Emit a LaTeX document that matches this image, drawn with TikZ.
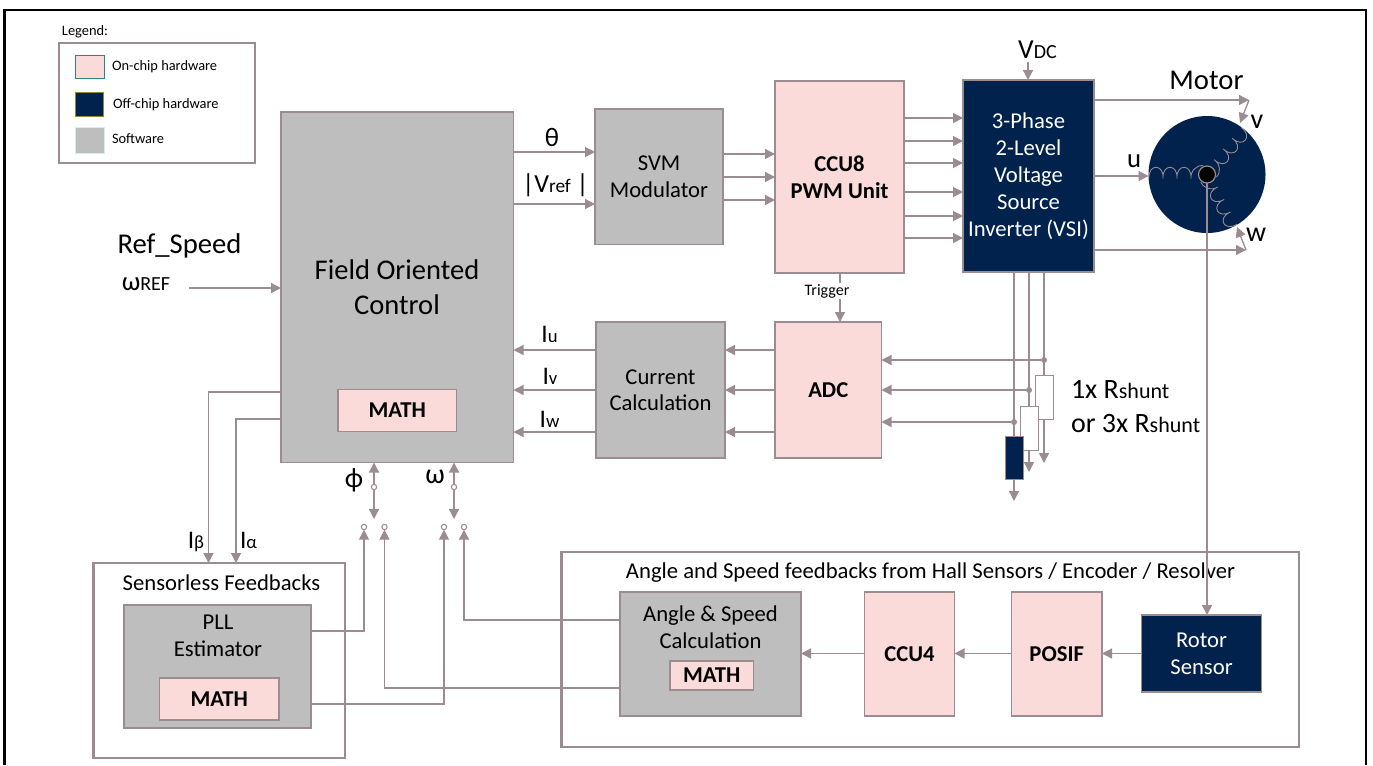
\documentclass[tikz,border=0pt]{standalone}
\usepackage{fontspec}
\setmainfont{Carlito}
\usetikzlibrary{arrows.meta,calc}
\definecolor{linec}{HTML}{9A8C90}
\definecolor{pinkc}{HTML}{FADBD9}
\definecolor{navyc}{HTML}{00224D}
\definecolor{grayc}{HTML}{BEBEBE}
\newcommand{\fs}[1]{\fontsize{#1}{#1}\selectfont}
\newcommand{\bx}[7]{\node[#2,minimum width={(#5-#3)*0.75pt},minimum height={(#6-#4)*0.75pt}] (#1) at ({(#3+#5)/2},{(#4+#6)/2}) {#7};}
\tikzset{
  x=0.75pt,y=-0.75pt,
  block/.style={rectangle,draw=linec,line width=0.8pt,outer sep=0pt,inner sep=0pt,align=center},
  pinkb/.style={block,fill=pinkc,text=black,font=\fs{17}\bfseries},
  navyb/.style={block,fill=navyc,text=white},
  grayb/.style={block,fill=grayc,text=black},
  groupb/.style={rectangle,draw=linec,line width=2.2pt,fill=white,outer sep=0pt,inner sep=0pt},
  wire/.style={draw=linec,line width=1pt},
  arr/.style={wire,-{Triangle[length=7.5pt,width=7.5pt]}},
  lbl/.style={inner sep=0pt,outer sep=0pt,text=black,anchor=base},
  dotc/.style={circle,draw=linec,fill=white,line width=0.8pt,minimum size=4pt,inner sep=0pt,outer sep=0pt},
  dotf/.style={circle,fill=linec,minimum size=4.5pt,inner sep=0pt,outer sep=0pt},
}
\begin{document}
\begin{tikzpicture}
\useasboundingbox (0,0) rectangle (1373,765);
\draw[black,line width=1.7pt,line join=miter] (4.5,765) -- (4.5,10) -- (1366,10) -- (1366,765);
% legend
\node[lbl,font=\fs{10.8}] (legt) at (85,35) {Legend:};
\bx{leg}{groupb,line width=2pt}{59}{43}{255}{163}{}
\bx{s1}{block,fill=pinkc,draw=teal!60!gray,line width=0.5pt}{75}{55}{104}{78}{}
\bx{s2}{block,fill=navyc,draw=olive!60!gray,line width=0.5pt}{75}{92}{103}{116}{}
\bx{s3}{block,fill=grayc,draw=teal!15!white,line width=0.5pt}{75}{127}{104.5}{153}{}
\node[lbl,font=\fs{10.8},anchor=base west] (l1) at (112,70) {On-chip hardware};
\node[lbl,font=\fs{10.8},anchor=base west] (l2) at (113,108) {Off-chip hardware};
\node[lbl,font=\fs{10.8},anchor=base west] (l3) at (112,143) {Software};
% blocks
\bx{foc}{grayb}{281}{112}{513.5}{462.5}{}
\node[lbl,font=\fs{21.4},align=center,anchor=center] (foct) at (397,287) {Field Oriented\\[4.85pt]Control};
\bx{fmath}{pinkb}{338}{389.5}{456.5}{431.5}{MATH}
\bx{svm}{grayb,font=\fs{17}}{595}{109}{723}{244.5}{SVM\\[3.2pt]Modulator}
\bx{ccu8}{pinkb}{775}{81}{904}{273}{CCU8\\[3.2pt]PWM Unit}
\bx{vsi}{navyb,font=\fs{17}}{963}{80}{1094}{272}{3-Phase\\[3.2pt]2-Level\\[3.2pt]Voltage\\[3.2pt]Source\\[3.2pt]Inverter (VSI)}
\bx{cur}{grayb,font=\fs{17}}{596}{322}{725}{458}{Current\\[2.8pt]Calculation}
\bx{adc}{pinkb}{775}{322}{881.5}{458}{ADC}
% motor
\node[circle,fill=navyc,minimum size={117*0.75pt},inner sep=0pt,outer sep=0pt] (motor) at (1207,174.5) {};
\foreach \r in {0,-130,117}{
 \begin{scope}[shift={(1207,174.5)},rotate=\r]
  \draw[linec,line width=0.65pt] (-58,4)
   .. controls +(-1,-15) and +(1,-15) .. ++(14,0)
   .. controls +(-1,-15) and +(1,-15) .. ++(14,0)
   .. controls +(-1,-15) and +(1,-15) .. ++(14,0)
   .. controls +(-1,-8) and +(-5,-1) .. (-4,-9);
 \end{scope}
}
\node[circle,draw=linec,fill=black,line width=0.9pt,minimum size={17*0.75pt},inner sep=0pt,outer sep=0pt] (hub) at (1207,174.5) {};
% groups
\bx{sless}{groupb}{93.5}{563}{345}{758}{}
\bx{angle}{groupb}{561.5}{552}{1299}{747}{}
\node[lbl,font=\fs{17}] (slesst) at (221.5,590) {Sensorless Feedbacks};
\node[lbl,font=\fs{17}] (anglet) at (930.5,578) {Angle and Speed feedbacks from Hall Sensors / Encoder / Resolver};
\bx{pll}{grayb}{124}{605}{311}{728}{}
\node[lbl,font=\fs{17},align=center,anchor=center] (pllt) at (218,636) {PLL\\[3.2pt]Estimator};
\bx{pmath}{pinkb}{159.5}{678}{279}{720}{MATH}
\bx{asc}{grayb}{620}{592}{801}{716}{}
\node[lbl,font=\fs{17},align=center,anchor=center] (asct) at (710.5,627) {Angle \& Speed\\[3.2pt]Calculation};
\bx{amath}{pinkb}{670}{661}{753.5}{690}{MATH}
\bx{ccu4}{pinkb}{864.5}{592}{954.5}{716}{CCU4}
\bx{posif}{pinkb}{1011.5}{592}{1102}{716}{POSIF}
\bx{rotor}{navyb,font=\fs{17}}{1141.5}{615}{1261.5}{692}{Rotor\\[3.2pt]Sensor}
% shunts
\coordinate (j1) at (1044,360);
\coordinate (j2) at (1029,390);
\coordinate (j3) at (1014,422);
\coordinate (g1) at (1044,463);
\coordinate (g2) at (1029,472);
\coordinate (g3) at (1014,501);
\draw[arr] (vsi.south -| j1) -- (g1);
\draw[arr] (vsi.south -| j2) -- (g2);
\draw[arr] (vsi.south -| j3) -- (g3);
\bx{r1}{block,fill=white,line width=0.6pt}{1035}{375}{1053}{419}{}
\bx{r2}{block,fill=white,line width=0.6pt}{1020}{406}{1038}{450}{}
\bx{r3}{block,fill=navyc,line width=0.6pt}{1005}{436}{1023}{479}{}
\node[dotf] (d1) at (j1) {};
\node[dotf] (d2) at (j2) {};
\node[dotf] (d3) at (j3) {};
\draw[arr] (d1) -- (adc.east |- d1);
\draw[arr] (d2) -- (adc.east |- d2);
\draw[arr] (d3) -- (adc.east |- d3);
% upper arrows
\draw[arr] (foc.east |- 0,152) -- (svm.west |- 0,152);
\draw[arr] (foc.east |- 0,204) -- (svm.west |- 0,204);
\foreach \y in {154,177,200} \draw[arr] (svm.east |- 0,\y) -- (ccu8.west |- 0,\y);
\foreach \y in {118,141,163,192,216,238} \draw[arr] (ccu8.east |- 0,\y) -- (vsi.west |- 0,\y);
\coordinate (vdct) at (1028,62);
\draw[arr] (vdct) -- (vsi.north -| vdct);
\coordinate (mv) at (1249,100);
\coordinate (mw) at (1246,250);
\coordinate (pv) at (1240,123);
\coordinate (pw) at (1237,227);
\draw[arr] (vsi.east |- mv) -- (mv);
\draw[arr] (mv) -- (pv);
\draw[arr] (vsi.east |- mw) -- (mw);
\draw[arr] (mw) -- (pw);
\draw[arr] (vsi.east |- 0,176) -- (motor.west |- 0,176);
\coordinate (refs) at (189,288);
\draw[arr] (refs) -- (foc.west |- refs);
% trigger
\draw[arr] (ccu8.south -| 840,0) -- (adc.north -| 840,0);
\node[fill=white,inner sep=1pt,outer sep=0pt,font=\fs{12},text=black] (trig) at (827,291) {Trigger};
% lower arrows
\foreach \y in {350,390,432} \draw[arr] (adc.west |- 0,\y) -- (cur.east |- 0,\y);
\foreach \y in {350,390,432} \draw[arr] (cur.west |- 0,\y) -- (foc.east |- 0,\y);
\draw[arr] (hub.south) -- (rotor.north -| hub);
\draw[arr] (ccu4.west |- 0,653.5) -- (asc.east |- 0,653.5);
\draw[arr] (posif.west |- 0,653.5) -- (ccu4.east |- 0,653.5);
\draw[arr] (rotor.west |- 0,653.5) -- (posif.east |- 0,653.5);
% sensorless feed
\coordinate (ib) at (208.5,392);
\coordinate (ia) at (236,419);
\draw[arr] (foc.west |- ib) -- (ib) -- (sless.north -| ib);
\draw[arr] (foc.west |- ia) -- (ia) -- (sless.north -| ia);
% switches
\node[dotc] (sw1) at (374,487) {};
\node[dotc] (sw2) at (454,487) {};
\coordinate (sw1b) at (374,519);
\coordinate (sw2b) at (454,519);
\draw[arr] (sw1) -- (foc.south -| sw1);
\draw[arr] (sw2) -- (foc.south -| sw2);
\draw[arr] (sw1) -- (sw1b);
\draw[arr] (sw2) -- (sw2b);
\node[dotc] (t1) at (364,527) {};
\node[dotc] (t2) at (384.5,527) {};
\node[dotc] (t3) at (444,527) {};
\node[dotc] (t4) at (464,527) {};
\draw[arr] (pll.east |- 0,631) -| (t1);
\draw[arr] (pll.east |- 0,704) -| (t3);
\draw[arr] (asc.west |- 0,688) -| (t2);
\draw[arr] (asc.west |- 0,620) -| (t4);
% labels
\node[lbl,font=\fs{20}] (th) at (552,146) {θ};
\node[lbl,font=\fs{19.5}] (vr) at (555.5,192) {|V\fs{14.5}ref\fs{19.5} |};
\node[lbl,font=\fs{19}] (iu) at (549.5,342) {I\fs{14}u};
\node[lbl,font=\fs{19}] (iv) at (550,384) {I\fs{14}v};
\node[lbl,font=\fs{19}] (iw) at (549.5,427) {I\fs{14}w};
\node[lbl,font=\fs{21.5}] (rs) at (179.5,253) {Ref\_Speed};
\node[lbl,font=\fs{20}] (wr) at (146,290) {ω\fs{15}REF};
\node[lbl,font=\fs{21}] (phi) at (354,487) {ϕ};
\node[lbl,font=\fs{21}] (om) at (435,483) {ω};
\node[lbl,font=\fs{19}] (ibl) at (196,548) {I\fs{14}β};
\node[lbl,font=\fs{19}] (ial) at (248.5,548) {I\fs{14}α};
\node[lbl,font=\fs{20.6}] (vdc) at (1037.5,58) {V\fs{15}DC};
\node[lbl,font=\fs{21.5}] (mot) at (1206.5,89) {Motor};
\node[lbl,font=\fs{20}] (ul) at (1134,167) {u};
\node[lbl,font=\fs{21}] (vl) at (1257,128) {v};
\node[lbl,font=\fs{21}] (wl) at (1256,241) {w};
\node[lbl,font=\fs{21},anchor=base west] (rs1) at (1071,398) {1x R\fs{16.5}shunt};
\node[lbl,font=\fs{21},anchor=base west] (rs2) at (1071,432) {or 3x R\fs{16.5}shunt};
\end{tikzpicture}
\end{document}
